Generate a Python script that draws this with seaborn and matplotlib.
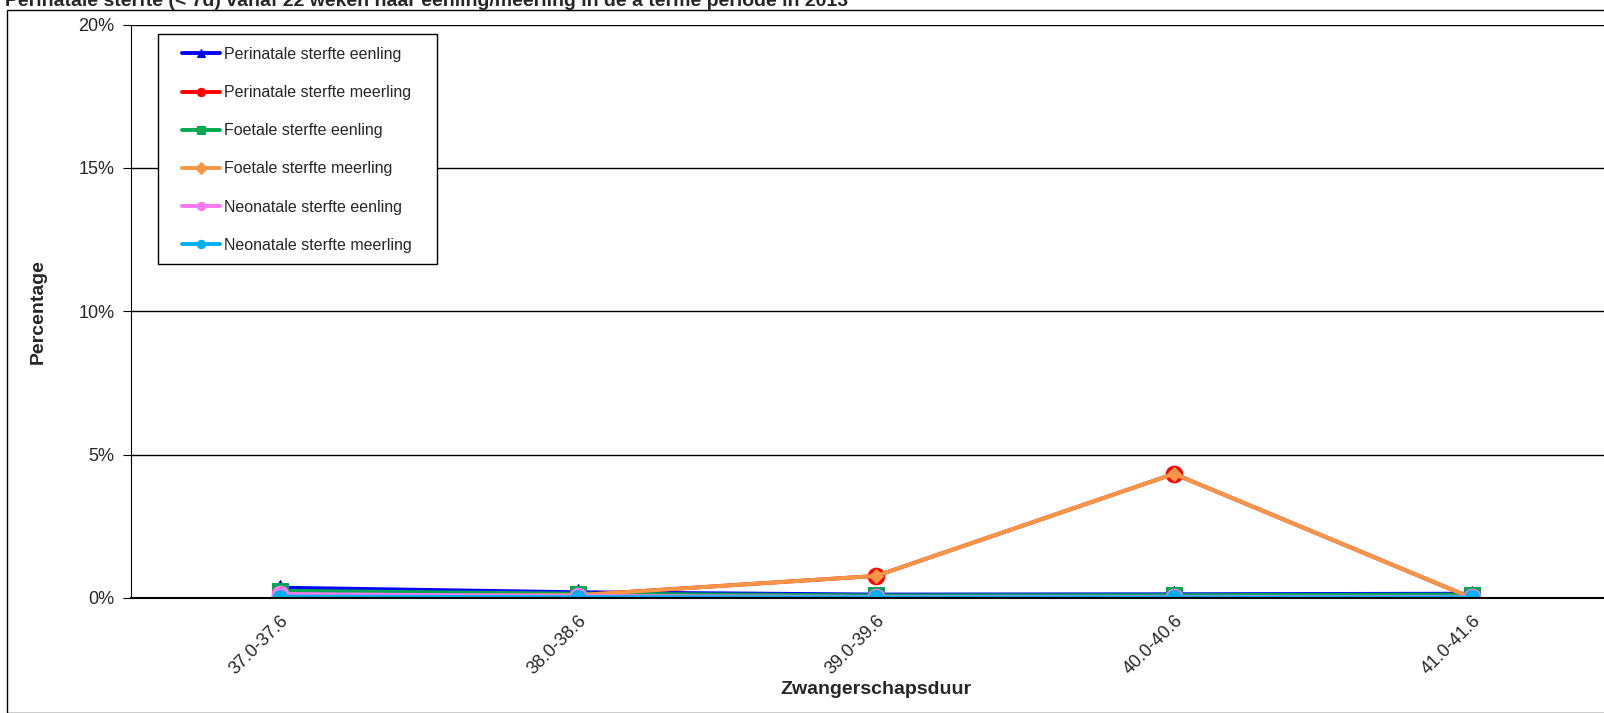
import numpy as np
import pandas as pd
import matplotlib
matplotlib.use("Agg")
import matplotlib.pyplot as plt
import matplotlib.ticker as mticker
from matplotlib.patches import Rectangle
import seaborn as sns

# data (percent)
duur = ['37.0-37.6', '38.0-38.6', '39.0-39.6', '40.0-40.6', '41.0-41.6']
peri_eenling = [0.36, 0.20, 0.12, 0.13, 0.15]
peri_meerling = [0.05, 0.10, 0.77, 4.33, 0.00]
foet_eenling = [0.25, 0.15, 0.09, 0.10, 0.12]
foet_meerling = [0.05, 0.10, 0.77, 4.33, 0.00]
neo_eenling = [0.14, 0.07, 0.04, 0.04, 0.04]
neo_meerling = [0.05, 0.03, 0.02, 0.02, 0.02]

df = pd.DataFrame({'duur': duur,
                   'Perinatale sterfte eenling': peri_eenling,
                   'Perinatale sterfte meerling': peri_meerling,
                   'Foetale sterfte eenling': foet_eenling,
                   'Foetale sterfte meerling': foet_meerling,
                   'Neonatale sterfte eenling': neo_eenling,
                   'Neonatale sterfte meerling': neo_meerling})

styles = [('Perinatale sterfte eenling', '#0000ff', '^', 11),
          ('Perinatale sterfte meerling', '#ff0000', 'o', 12),
          ('Foetale sterfte eenling', '#00a850', 's', 11),
          ('Foetale sterfte meerling', '#f79646', 'D', 7),
          ('Neonatale sterfte eenling', '#ff77ee', 'o', 12),
          ('Neonatale sterfte meerling', '#00b0f0', 'o', 10)]

sns.set_style('white')
plt.rcParams['font.family'] = ['Liberation Sans', 'DejaVu Sans']

W, H = 1604, 713
fig = plt.figure(figsize=(W/100, H/100), dpi=100)
ax_l, ax_t, ax_w, ax_h = 131, 24.5, 1490, 573.5
ax = fig.add_axes([ax_l/W, 1-(ax_t+ax_h)/H, ax_w/W, ax_h/H])

for col, c, m, ms in styles:
    sns.lineplot(data=df, x='duur', y=col, ax=ax, color=c, marker=m,
                 markersize=ms, markeredgecolor=c, linewidth=2.8,
                 label=col, sort=False)

ax.set_xlim(-0.5, 4.5)
ax.set_ylim(0, 20)
ax.yaxis.set_major_locator(mticker.MultipleLocator(5))
ax.yaxis.set_major_formatter(mticker.FuncFormatter(lambda v, p: f'{v:.0f}%'))
ax.grid(axis='y', color='black', linewidth=1)
ax.set_axisbelow(True)
for s in ['top', 'right']:
    ax.spines[s].set_visible(False)
ax.spines['left'].set_color('black')
ax.spines['bottom'].set_color('black')
ax.spines['bottom'].set_linewidth(1.5)

ax.set_xticks(np.arange(0.5, 4.5, 1), minor=True)
ax.tick_params(axis='x', which='major', length=0, labelsize=13, pad=10)
ax.tick_params(axis='x', which='minor', length=5, color='black', direction='out')
ax.tick_params(axis='y', length=6, color='black', direction='out', labelsize=13, left=True, pad=6)
plt.setp(ax.get_xticklabels(), rotation=45, ha='right', rotation_mode='anchor')

ax.set_xlabel('Zwangerschapsduur', fontsize=14, fontweight='bold', labelpad=2)
ax.set_ylabel('Percentage', fontsize=14, fontweight='bold', labelpad=23)

# legend box drawn by hand, legend itself without frame
box = Rectangle(((158-ax_l)/ax_w, 1-(264-ax_t)/ax_h), 279/ax_w, 230/ax_h,
                transform=ax.transAxes, facecolor='white', edgecolor='black',
                linewidth=1, zorder=4)
ax.add_patch(box)
leg = ax.legend(loc='upper left', bbox_to_anchor=((182-ax_l)/ax_w, 1-(47-ax_t)/ax_h),
                fontsize=11.5, labelspacing=1.45, handlelength=2.4,
                handletextpad=0.2, borderpad=0, borderaxespad=0,
                frameon=False)
leg.set_zorder(5)
for h in leg.legend_handles:
    h.set_markersize(6)

fig.patches.append(Rectangle((7/W, 0), 1.0, 1-10/H, transform=fig.transFigure,
                             fill=False, edgecolor='black', linewidth=1))
fig.text(5/W, 1-6/H, 'Perinatale sterfte (< 7d) vanaf 22 weken naar eenling/meerling in de a terme periode in 2013',
         fontsize=14, fontweight='bold', va='baseline', ha='left')

fig.savefig('out.png', dpi=100)
